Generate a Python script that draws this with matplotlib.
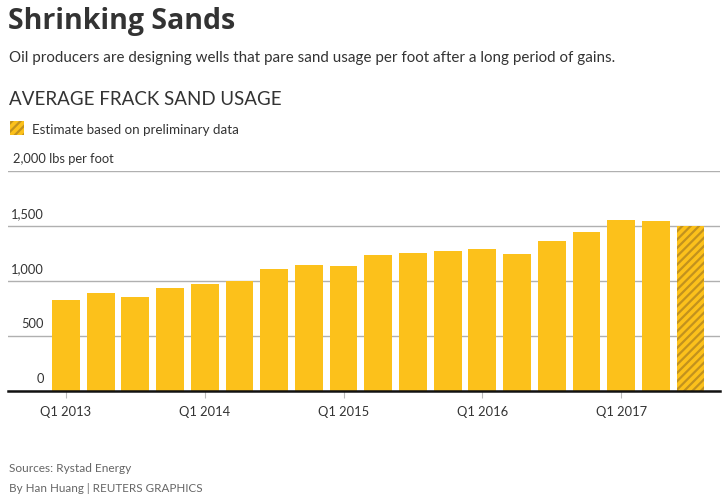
import matplotlib
matplotlib.use("Agg")
import matplotlib.pyplot as plt
from matplotlib.patches import Rectangle

plt.rcParams['font.family'] = ['Lato', 'DejaVu Sans']
plt.rcParams['hatch.linewidth'] = 1.6

quarters = ["Q1 2013", "Q2 2013", "Q3 2013", "Q4 2013",
            "Q1 2014", "Q2 2014", "Q3 2014", "Q4 2014",
            "Q1 2015", "Q2 2015", "Q3 2015", "Q4 2015",
            "Q1 2016", "Q2 2016", "Q3 2016", "Q4 2016",
            "Q1 2017", "Q2 2017", "Q3 2017"]
values = [822, 885, 852, 936, 967, 1000, 1106, 1145, 1136, 1233,
          1252, 1270, 1288, 1243, 1361, 1443, 1552, 1543, 1503]
estimate = [False] * 18 + [True]
yticks = [0, 500, 1000, 1500, 2000]
ytick_labels = ["0", "500", "1,000", "1,500", "2,000"]
xtick_idx = [0, 4, 8, 12, 16]
xtick_labels = ["Q1 2013", "Q1 2014", "Q1 2015", "Q1 2016", "Q1 2017"]

W, H = 727, 499
fig = plt.figure(figsize=(W / 100, H / 100), dpi=100)
BAR = "#FCC11B"
HATCH = "#C2921E"
DARK = "#333333"

ax = fig.add_axes([8 / W, 1 - 390.7 / H, 712 / W, (390.7 - 171) / H])
for i, (v, est) in enumerate(zip(values, estimate)):
    if est:
        ax.bar(i, v, width=0.8, color=BAR, edgecolor=HATCH, linewidth=0,
               hatch='////', zorder=3)
    else:
        ax.bar(i, v, width=0.8, color=BAR, linewidth=0, zorder=3)

ax.set_xlim(-1.67, 18.85)
ax.set_ylim(0, 2000)
for s in ['top', 'right', 'left']:
    ax.spines[s].set_visible(False)
ax.spines['bottom'].set_color('#111111')
ax.spines['bottom'].set_linewidth(1.8)
ax.spines['bottom'].set_zorder(5)
ax.set_yticks(yticks)
ax.set_yticklabels([])
ax.tick_params(axis='y', length=0)
ax.yaxis.grid(True, color='#b0b0b0', linewidth=1.0, zorder=0)
ax.set_axisbelow(True)
ax.set_xticks(xtick_idx)
ax.set_xticklabels(xtick_labels, fontsize=9.3, color=DARK)
ax.tick_params(axis='x', length=5, width=0.8, color='#bbbbbb', pad=6)

ytrans = ax.get_yaxis_transform()
xr = (44 - 8) / 712
for v, lab in zip(yticks, ytick_labels):
    if v == 2000:
        ax.annotate(lab + " lbs per foot", xy=(xr, v), xycoords=ytrans,
                    xytext=(-31 * 0.72, 4), textcoords='offset points',
                    ha='left', va='bottom', fontsize=9.3, color=DARK)
    else:
        ax.annotate(lab, xy=(xr, v), xycoords=ytrans,
                    xytext=(0, 4), textcoords='offset points',
                    ha='right', va='bottom', fontsize=9.3, color=DARK)

fig.text(8 / W, 1 - 29 / H, "Shrinking Sands", fontsize=20.5, fontweight='bold',
         family=['Open Sans', 'DejaVu Sans'],
         color=DARK, ha='left', va='baseline')
fig.text(9 / W, 1 - 62 / H, "Oil producers are designing wells that pare sand usage per foot after a long period of gains.",
         fontsize=10.9, color=DARK, ha='left', va='baseline')
fig.text(9 / W, 1 - 105.5 / H, "AVERAGE FRACK SAND USAGE", fontsize=13.5,
         color=DARK, ha='left', va='baseline')

# legend swatch
fig.patches.append(Rectangle((10 / W, 1 - 135 / H), 14 / W, 14 / H,
                             transform=fig.transFigure, facecolor=BAR,
                             edgecolor=HATCH, linewidth=0, hatch='////'))
fig.text(32 / W, 1 - 134.5 / H, "Estimate based on preliminary data",
         fontsize=9.6, color=DARK, ha='left', va='baseline')

fig.text(9 / W, 1 - 472 / H, "Sources: Rystad Energy", fontsize=8.6,
         color='#666666', ha='left', va='baseline')
fig.text(9 / W, 1 - 492 / H, "By Han Huang | REUTERS GRAPHICS", fontsize=8.4,
         color='#666666', ha='left', va='baseline')

fig.savefig("out.png", dpi=100, facecolor='white')
